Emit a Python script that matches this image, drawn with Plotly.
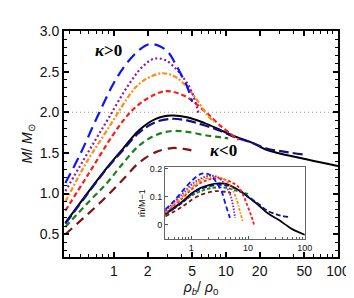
import plotly.graph_objects as go

# ---------------- main panel data (rho_b/rho_0 , M/Msun) ----------------
blue_x = [0.37, 0.5, 0.7, 1.0, 1.3, 1.7, 2.1, 2.6, 3.1, 3.5, 4.0, 4.5, 5.0]
blue_y = [1.13, 1.48, 1.92, 2.36, 2.60, 2.77, 2.84, 2.81, 2.73, 2.61, 2.46, 2.32, 2.13]

purple_x = [0.37, 0.53, 0.7, 0.9, 1.3, 1.8, 2.3, 2.9, 3.5, 4.3, 5.0, 5.7]
purple_y = [1.03, 1.40, 1.68, 1.93, 2.30, 2.56, 2.66, 2.64, 2.55, 2.40, 2.24, 1.99]

orange_x = [0.37, 0.58, 0.8, 1.02, 1.3, 1.6, 2.0, 2.7, 3.5, 4.3, 5.6, 6.8, 7.9]
orange_y = [0.90, 1.40, 1.70, 1.93, 2.16, 2.32, 2.42, 2.48, 2.44, 2.34, 2.14, 1.97, 1.88]

red_x = [0.37, 0.6, 0.96, 1.25, 1.5, 2.0, 2.9, 4.3, 6.4, 9.0, 13.0]
red_y = [0.79, 1.25, 1.70, 1.92, 2.04, 2.17, 2.26, 2.20, 2.02, 1.83, 1.66]

black_x = [0.37, 0.6, 0.87, 1.22, 1.68, 2.37, 3.3, 4.5, 6.4, 9.0, 11.7, 17.5, 23, 45, 100]
black_y = [0.64, 1.03, 1.32, 1.56, 1.78, 1.92, 1.96, 1.94, 1.87, 1.78, 1.71, 1.62, 1.54, 1.44, 1.34]

navy_x = [0.37, 0.6, 0.87, 1.22, 1.68, 2.37, 3.3, 4.5, 6.4, 9.0, 11.7, 17.5, 23, 35, 50]
navy_y = [0.63, 1.02, 1.31, 1.54, 1.75, 1.88, 1.92, 1.90, 1.84, 1.77, 1.70, 1.62, 1.555, 1.51, 1.48]

green_x = [0.37, 0.6, 0.87, 1.22, 1.68, 2.37, 3.3, 4.5, 6.4, 8.0, 10.5]
green_y = [0.59, 0.90, 1.13, 1.38, 1.59, 1.72, 1.77, 1.76, 1.72, 1.70, 1.68]

brown_x = [0.37, 0.6, 0.87, 1.22, 1.68, 2.37, 3.3, 4.2, 5.0]
brown_y = [0.50, 0.76, 0.97, 1.18, 1.38, 1.51, 1.56, 1.55, 1.53]

# ---------------- inset data (rho_b/rho_0 , mbar/M - 1) ----------------
iblue_x = [0.35, 0.5, 0.7, 1.04, 1.54, 2.0, 2.3, 2.8, 3.4, 4.1, 4.8]
iblue_y = [0.055, 0.085, 0.12, 0.158, 0.182, 0.18, 0.172, 0.15, 0.12, 0.067, 0.025]

ipurple_x = [0.35, 0.7, 1.04, 1.5, 2.2, 3.0, 4.0, 5.0, 5.9]
ipurple_y = [0.05, 0.11, 0.145, 0.165, 0.175, 0.168, 0.14, 0.10, 0.025]

iorange_x = [0.35, 0.7, 1.04, 1.5, 2.5, 3.5, 4.5, 5.4, 6.3, 7.1, 8.0]
iorange_y = [0.045, 0.10, 0.135, 0.158, 0.17, 0.165, 0.148, 0.123, 0.09, 0.053, 0.014]

ired_x = [0.35, 0.7, 1.04, 1.5, 2.0, 2.8, 4.0, 5.0, 6.6, 8.0, 9.8, 11.5, 12.9]
ired_y = [0.042, 0.095, 0.128, 0.15, 0.16, 0.165, 0.16, 0.152, 0.137, 0.11, 0.067, 0.03, -0.003]

iblack_x = [0.35, 0.7, 1.04, 1.5, 2.2, 3.0, 4.0, 5.4, 7.5, 10.6, 15.7, 22, 34.5, 60, 100]
iblack_y = [0.04, 0.083, 0.113, 0.132, 0.143, 0.147, 0.146, 0.135, 0.118, 0.095, 0.068, 0.042, 0.018, -0.015, -0.035]

inavy_x = [0.35, 0.7, 1.04, 1.5, 2.2, 3.0, 4.0, 5.4, 7.5, 10.6, 15.7, 22, 34.5, 51]
inavy_y = [0.038, 0.08, 0.11, 0.128, 0.138, 0.142, 0.141, 0.133, 0.118, 0.097, 0.072, 0.05, 0.035, 0.028]

igreen_x = [0.35, 0.7, 1.04, 1.5, 2.2, 3.3, 4.5, 6.0, 8.0, 10.6]
igreen_y = [0.035, 0.08, 0.105, 0.12, 0.13, 0.133, 0.13, 0.122, 0.115, 0.108]

ibrown_x = [0.35, 0.7, 1.04, 1.5, 2.2, 3.0, 4.0, 5.0]
ibrown_y = [0.03, 0.065, 0.09, 0.107, 0.117, 0.12, 0.117, 0.113]

x_tickvals = [1, 2, 5, 10, 20, 50, 100]
x_minor = [0.4, 0.5, 0.6, 0.7, 0.8, 0.9, 3, 4, 6, 7, 8, 9, 30, 40, 60, 70, 80, 90]
inset_xticks = [1, 10, 100]
inset_xminor = [0.4, 0.5, 0.6, 0.7, 0.8, 0.9, 2, 3, 4, 5, 6, 7, 8, 9, 20, 30, 40, 50, 60, 70, 80, 90]
inset_yticks = [0, 0.1, 0.2]
inset_ytext = ["0", "0.1", "0.2"]

colors = {
    "blue": "#0a14ff", "purple": "#8a1aa0", "orange": "#ff8c10", "red": "#ff1a1a",
    "black": "#000000", "navy": "#10107f", "green": "#1a801a", "brown": "#801414",
}
dash_main = {
    "blue": "11px,6px", "purple": "2px,2.5px", "orange": "5px,2px,2px,2px", "red": "5px,3px",
    "black": "solid", "navy": "10px,4px", "green": "6px,4px", "brown": "9px,6px",
}
dash_inset = {
    "blue": "5px,3px", "purple": "1.5px,1.5px", "orange": "3px,1.5px,1.5px,1.5px", "red": "3px,2px",
    "black": "solid", "navy": "5px,2.5px", "green": "3.5px,2px", "brown": "4px,3px",
}

main = [
    ("brown", brown_x, brown_y), ("green", green_x, green_y),
    ("black", black_x, black_y), ("navy", navy_x, navy_y),
    ("red", red_x, red_y), ("orange", orange_x, orange_y),
    ("purple", purple_x, purple_y), ("blue", blue_x, blue_y),
]
inset = [
    ("brown", ibrown_x, ibrown_y), ("green", igreen_x, igreen_y),
    ("black", iblack_x, iblack_y), ("navy", inavy_x, inavy_y),
    ("red", ired_x, ired_y), ("orange", iorange_x, iorange_y),
    ("purple", ipurple_x, ipurple_y), ("blue", iblue_x, iblue_y),
]

fig = go.Figure()
for name, xs, ys in main:
    fig.add_trace(go.Scatter(x=xs, y=ys, mode="lines", line_shape="spline",
                             line=dict(color=colors[name], dash=dash_main[name],
                                       width=2.0 if name == "black" else 2.2),
                             showlegend=False, xaxis="x", yaxis="y"))
for name, xs, ys in inset:
    fig.add_trace(go.Scatter(x=xs, y=ys, mode="lines", line_shape="spline",
                             line=dict(color=colors[name], dash=dash_inset[name], width=1.8),
                             showlegend=False, xaxis="x2", yaxis="y2"))

font_main = "Liberation Sans, Arial, sans-serif"

W, H, L, R, T, B = 354, 298, 56, 16, 23, 49
pw, ph = W - L - R, H - T - B


def px2paper(px, py):
    return (px - L) / pw, (H - B - py) / ph


k1x, k1y = px2paper(102, 42)
k2x, k2y = px2paper(220, 142)

fig.update_layout(
    width=W, height=H,
    margin=dict(l=L, r=R, t=T, b=B),
    paper_bgcolor="white", plot_bgcolor="white",
    font=dict(family=font_main, size=14, color="#111"),
    xaxis=dict(type="log", range=[-0.444, 2.0], domain=[0, 1],
               tickmode="array", tickvals=x_tickvals, ticktext=[str(v) for v in x_tickvals],
               ticks="inside", ticklen=5, tickwidth=1.5, tickcolor="black",
               showline=True, linewidth=2, linecolor="black", mirror="allticks",
               showgrid=False, zeroline=False,
               minor=dict(tickmode="array", tickvals=x_minor, ticks="inside", ticklen=3,
                          tickwidth=1, tickcolor="black", showgrid=False),
               title=dict(text="<i>ρ</i><sub><i>b</i></sub>/ <i>ρ</i><sub>0</sub>",
                          font=dict(size=14), standoff=0)),
    yaxis=dict(range=[0.22, 3.0], domain=[0, 1], dtick=0.5, tick0=0, tickformat=".1f",
               ticks="inside", ticklen=5, tickwidth=1.5, tickcolor="black",
               showline=True, linewidth=2, linecolor="black", mirror="allticks",
               showgrid=False, zeroline=False,
               minor=dict(dtick=0.1, ticks="inside", ticklen=3, tickwidth=1,
                          tickcolor="black", showgrid=False),
               title=dict(text="<i>M</i>/ <i>M</i><sub>⊙</sub>", font=dict(size=14), standoff=4)),
    xaxis2=dict(type="log", range=[-0.46, 2.0], domain=[0.369, 0.879], anchor="y2",
                tickmode="array", tickvals=inset_xticks, ticktext=["1", "10", "100"],
                ticks="inside", ticklen=3, tickwidth=1, tickcolor="#555",
                showline=True, linewidth=1, linecolor="#666", mirror=True,
                showgrid=False, zeroline=False, tickfont=dict(size=9),
                minor=dict(tickmode="array", tickvals=inset_xminor, ticks="inside", ticklen=2,
                           tickwidth=1, tickcolor="#555", showgrid=False)),
    yaxis2=dict(range=[-0.05, 0.205], domain=[0.0796, 0.398], anchor="x2",
                tickmode="array", tickvals=inset_yticks, ticktext=inset_ytext,
                ticks="inside", ticklen=3, tickwidth=1, tickcolor="#555",
                showline=True, linewidth=1, linecolor="#666", mirror=True,
                showgrid=False, zeroline=False, tickfont=dict(size=9),
                title=dict(text="m̄/M−1", font=dict(size=9), standoff=2)),
    shapes=[
        dict(type="line", xref="x domain", yref="y", x0=0, x1=1, y0=2.0, y1=2.0,
             line=dict(color="#999", width=1, dash="1px,3px"), layer="below"),
        dict(type="line", xref="x2 domain", yref="y2", x0=0, x1=1, y0=0, y1=0,
             line=dict(color="#aaa", width=1, dash="1px,3px"), layer="below"),
    ],
    annotations=[
        dict(text="<b><i>κ</i>>0</b>", x=k1x, y=k1y, xref="paper", yref="paper",
             xanchor="center", yanchor="middle", showarrow=False,
             font=dict(family="Liberation Serif, serif", size=17, color="black")),
        dict(text="<b><i>κ</i><0</b>", x=k2x, y=k2y, xref="paper", yref="paper",
             xanchor="center", yanchor="middle", showarrow=False,
             font=dict(family="Liberation Serif, serif", size=17, color="black")),
    ],
)

fig.write_html("out.html")
